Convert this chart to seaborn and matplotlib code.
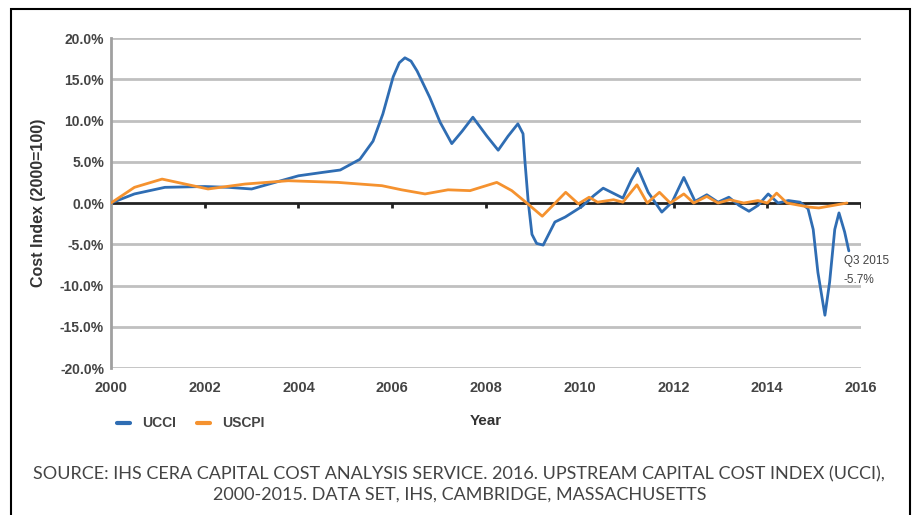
import matplotlib
matplotlib.use("Agg")
import matplotlib.pyplot as plt
import seaborn as sns
import pandas as pd
from matplotlib.patches import Rectangle

# ---- data ----
ucci_year = [2000.0, 2000.5, 2001.15, 2002.0, 2002.5, 2003.0, 2003.5, 2004.0, 2004.5, 2004.89,
             2005.31, 2005.59, 2005.8, 2006.02, 2006.15, 2006.27, 2006.4, 2006.53, 2006.8, 2007.02,
             2007.27, 2007.49, 2007.72, 2008.02, 2008.26, 2008.47, 2008.68, 2008.79, 2008.83, 2008.9,
             2008.98, 2009.08, 2009.22, 2009.47, 2009.69, 2010.05, 2010.3, 2010.5, 2010.92, 2011.1,
             2011.24, 2011.46, 2011.75, 2011.97, 2012.22, 2012.46, 2012.71, 2012.95, 2013.18, 2013.4,
             2013.61, 2013.8, 2014.02, 2014.23, 2014.45, 2014.7, 2014.87, 2014.98, 2015.08, 2015.23,
             2015.33, 2015.44, 2015.53, 2015.65, 2015.74]
ucci_val = [0.0, 1.1, 1.9, 2.0, 1.9, 1.7, 2.5, 3.3, 3.7, 4.0,
            5.3, 7.5, 10.8, 15.3, 17.0, 17.6, 17.2, 16.0, 12.8, 9.8,
            7.2, 8.7, 10.4, 8.1, 6.4, 8.1, 9.6, 8.4, 5.1, 0.2,
            -3.8, -4.9, -5.1, -2.3, -1.7, -0.4, 0.9, 1.8, 0.6, 2.8,
            4.2, 1.3, -1.1, 0.1, 3.1, 0.2, 1.0, 0.1, 0.7, -0.3,
            -1.0, -0.3, 1.1, 0.0, 0.3, 0.1, -0.7, -3.2, -8.4, -13.6,
            -9.6, -3.2, -1.2, -3.5, -5.8]

uscpi_year = [2000.0, 2000.5, 2001.09, 2001.58, 2002.07, 2002.86, 2003.78, 2004.84, 2005.78, 2006.2,
              2006.7, 2007.19, 2007.66, 2008.23, 2008.55, 2008.87, 2009.2, 2009.7, 2009.97, 2010.2,
              2010.38, 2010.72, 2010.92, 2011.22, 2011.44, 2011.7, 2011.93, 2012.22, 2012.43, 2012.71,
              2012.95, 2013.2, 2013.5, 2013.8, 2014.0, 2014.2, 2014.42, 2014.9, 2015.1, 2015.7]
uscpi_val = [0.0, 1.9, 2.9, 2.3, 1.7, 2.3, 2.7, 2.5, 2.1, 1.6,
             1.1, 1.6, 1.5, 2.5, 1.5, 0.0, -1.6, 1.3, -0.1, 0.7,
             0.1, 0.4, 0.1, 2.2, 0.0, 1.3, 0.0, 1.1, 0.0, 0.8,
             0.0, 0.4, 0.0, 0.3, 0.0, 1.2, 0.0, -0.5, -0.6, 0.0]

series_names = ["UCCI", "USCPI"]
x_ticks = [2000, 2002, 2004, 2006, 2008, 2010, 2012, 2014, 2016]
y_ticks = [-20, -15, -10, -5, 0, 5, 10, 15, 20]
end_label = ["Q3 2015", "-5.7%"]
source_lines = ["SOURCE: IHS CERA CAPITAL COST ANALYSIS SERVICE. 2016. UPSTREAM CAPITAL COST INDEX (UCCI),",
                "2000-2015. DATA SET, IHS, CAMBRIDGE, MASSACHUSETTS"]

df = pd.concat([
    pd.DataFrame({"Year": ucci_year, "Value": ucci_val, "Series": series_names[0]}),
    pd.DataFrame({"Year": uscpi_year, "Value": uscpi_val, "Series": series_names[1]}),
])

sns.set_theme(style="white")
plt.rcParams["font.family"] = ["Liberation Sans", "DejaVu Sans"]

fig = plt.figure(figsize=(9.15, 5.15), dpi=100)
ax = fig.add_axes([0.1213, 0.2854, 0.8197, 0.6408])

colors = {"UCCI": "#2f6db3", "USCPI": "#f5922f"}
ax.set_xlim(2000, 2016)
ax.set_ylim(-20, 20)
for yv in y_ticks:
    if yv != 0:
        ax.axhline(yv, color="#c0c0c0", lw=2, zorder=0)
ax.axhline(0, color="#222222", lw=2, zorder=1)
ax.vlines(x_ticks[1:], -0.6, 0, color="#222222", lw=2, zorder=1)

sns.lineplot(data=df, x="Year", y="Value", hue="Series", palette=colors,
             hue_order=series_names, sort=False, estimator=None, lw=2, ax=ax, zorder=3)
for ln in ax.get_lines():
    ln.set_solid_joinstyle("round")
    ln.set_solid_capstyle("round")

for s in ["top", "right", "bottom"]:
    ax.spines[s].set_visible(False)
ax.spines["left"].set_color("#a0a0a0")
ax.spines["left"].set_linewidth(2)

ax.set_xticks(x_ticks)
ax.set_xticklabels([str(t) for t in x_ticks], fontsize=10.5, color="#444444", fontweight="bold")
ax.set_yticks(y_ticks)
ax.set_yticklabels([f"{t:.1f}%" for t in y_ticks], fontsize=10, color="#444444", fontweight="bold")
ax.tick_params(axis="x", length=0, pad=9)
ax.tick_params(axis="y", length=0, pad=5)

ax.set_xlabel("Year", fontsize=11, fontweight="bold", color="#333333", labelpad=14)
ax.set_ylabel("Cost Index (2000=100)", fontsize=11.5, fontweight="bold", color="#333333", labelpad=10)

ax.text(2015.63, -7.0, end_label[0], fontsize=8.5, color="#444444", va="center", ha="left")
ax.text(2015.63, -9.3, end_label[1], fontsize=8.5, color="#444444", va="center", ha="left")

leg = ax.legend(loc="center left", bbox_to_anchor=(-0.008, -0.168), ncol=2, frameon=False,
                fontsize=10, handlelength=0.9, columnspacing=1.5, handletextpad=0.9)
for t in leg.get_texts():
    t.set_color("#444444")
    t.set_fontweight("bold")
for h in leg.get_lines():
    h.set_linewidth(3)

fig.text(0.502, 1 - 474 / 515, source_lines[0], ha="center", va="center", fontsize=13,
         color="#444444", family=["Lato", "DejaVu Sans"])
fig.text(0.502, 1 - 495 / 515, source_lines[1], ha="center", va="center", fontsize=13,
         color="#444444", family=["Lato", "DejaVu Sans"])

fig.patches.append(Rectangle((11 / 915, -0.05), (910 - 11) / 915, 1.05 - 9 / 515,
                             transform=fig.transFigure, fill=False, ec="black", lw=1.5))

fig.savefig("out.png", dpi=100)
